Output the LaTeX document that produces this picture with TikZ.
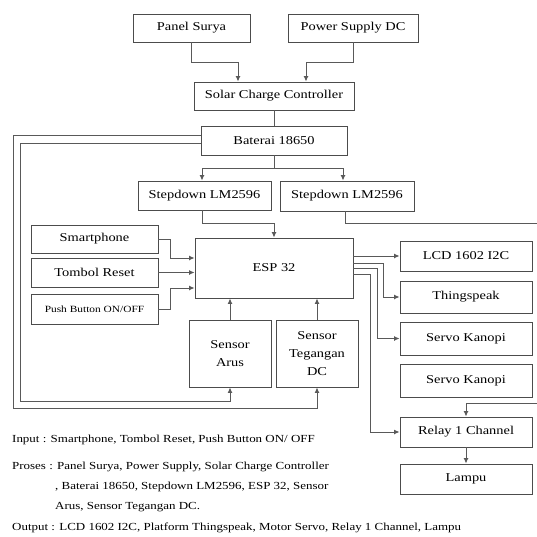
\documentclass[tikz,border=0pt]{standalone}
\usepackage{fontspec}
\setmainfont{Liberation Serif}[FakeStretch=1.2]
\usetikzlibrary{arrows.meta,calc}
\begin{document}
\begin{tikzpicture}[x=1pt,y=-1pt,
  blk/.style={draw=black!70, line width=0.9pt, fill=white, inner sep=0pt, align=center,
              font=\fontsize{12}{18}\selectfont},
  con/.style={draw=black!65, line width=1pt},
  arr/.style={con, -{Latex[length=5.5pt,width=5pt]}},
  note/.style={anchor=west, inner sep=0pt, font=\fontsize{10.8}{12}\selectfont}]
\useasboundingbox (0,0) rectangle (537,536);
% boxes
\node[blk, minimum width=117pt, minimum height=28pt] (ps)  at (191.5,28)  {Panel Surya};
\node[blk, minimum width=130pt, minimum height=28pt] (pdc) at (353,28)    {Power Supply DC};
\node[blk, minimum width=160pt, minimum height=28pt] (scc) at (274,96)    {Solar Charge Controller};
\node[blk, minimum width=146pt, minimum height=29pt] (bat) at (274,140.5) {Baterai 18650};
\node[blk, minimum width=133pt, minimum height=29pt] (sd1) at (204.5,195.5) {Stepdown LM2596};
\node[blk, minimum width=134pt, minimum height=30pt] (sd2) at (347,196)   {Stepdown LM2596};
\node[blk, minimum width=127pt, minimum height=28pt] (sp)  at (94.5,239)  {Smartphone};
\node[blk, minimum width=127pt, minimum height=29pt] (tr)  at (94.5,272.5) {Tombol Reset};
\node[blk, minimum width=127pt, minimum height=30pt, font=\fontsize{9.5}{11}\selectfont] (pb) at (94.5,309) {Push Button ON/OFF};
\node[blk, minimum width=158pt, minimum height=60pt] (esp) at (274,268)   {ESP 32};
\node[blk, minimum width=82pt, minimum height=67pt]  (sa)  at (230,353.5) {Sensor\\Arus};
\node[blk, minimum width=82pt, minimum height=67pt]  (st)  at (317,353.5) {Sensor\\Tegangan\\DC};
\node[blk, minimum width=132pt, minimum height=30pt] (lcd) at (466,256)   {LCD 1602 I2C};
\node[blk, minimum width=132pt, minimum height=32pt] (ts)  at (466,297)   {Thingspeak};
\node[blk, minimum width=132pt, minimum height=33pt] (sk1) at (466,338.5) {Servo Kanopi};
\node[blk, minimum width=132pt, minimum height=33pt] (sk2) at (466,380.5) {Servo Kanopi};
\node[blk, minimum width=132pt, minimum height=30pt] (rel) at (466,432)   {Relay 1 Channel};
\node[blk, minimum width=132pt, minimum height=30pt] (lam) at (466,479)   {Lampu};
\coordinate (edgeA) at (537,223);
\coordinate (edgeB) at (537,403);
% connectors
\draw[arr] (ps.south) -- ++(0,20) -| ($(scc.north)+(-36,0)$);
\draw[arr] (pdc.south) -- ++(0,20) -| ($(scc.north)+(32,0)$);
\draw[con] (scc.south) -- (bat.north);
\coordinate (bj) at ($(bat.south)+(0,13)$);
\draw[con] (bat.south) -- (bj);
\draw[arr] (bj) -| ($(sd1.north)+(-2.5,0)$);
\draw[arr] (bj) -| ($(sd2.north)+(-4,0)$);
\draw[arr] ($(sd1.south)+(-2.5,0)$) -- ++(0,13) -| (esp.north);
\draw[con] ($(sd2.south)+(-2,0)$) |- (edgeA);
\draw[arr] (edgeB) -| (rel.north);
\draw[arr] ($(bat.west)+(0,-5.5)$) -| (13,408) -| (st.south);
\draw[arr] ($(bat.west)+(0,2.5)$) -| (20,401) -| (sa.south);
\draw[arr] (sp.east) -- ++(12,0) |- ($(esp.west)+(0,-10)$);
\draw[arr] (tr.east) -- (tr.east -| esp.west);
\draw[arr] (pb.east) -- ++(12,0) |- ($(esp.west)+(0,20)$);
\draw[arr] (sa.north) -- (sa.north |- esp.south);
\draw[arr] (st.north) -- (st.north |- esp.south);
\draw[arr] (esp.east |- lcd.west) -- (lcd.west);
\draw[arr] ($(esp.east)+(0,-5)$) -- ++(30,0) |- (ts.west);
\draw[arr] (esp.east) -- ++(24,0) |- (sk1.west);
\draw[arr] ($(esp.east)+(0,6)$) -- ++(17,0) |- (rel.west);
\draw[arr] (rel.south) -- (lam.north);
% notes
\node[note] (n1) at (12,440) {Input : Smartphone, Tombol Reset, Push Button ON/ OFF};
\node[note] (n2) at (12,467) {Proses : Panel Surya, Power Supply, Solar Charge Controller};
\node[note] (n3) at (55,487) {, Baterai 18650, Stepdown LM2596, ESP 32, Sensor};
\node[note] (n4) at (55,507) {Arus, Sensor Tegangan DC.};
\node[note] (n5) at (12,528) {Output : LCD 1602 I2C, Platform Thingspeak, Motor Servo, Relay 1 Channel, Lampu};
\end{tikzpicture}
\end{document}
